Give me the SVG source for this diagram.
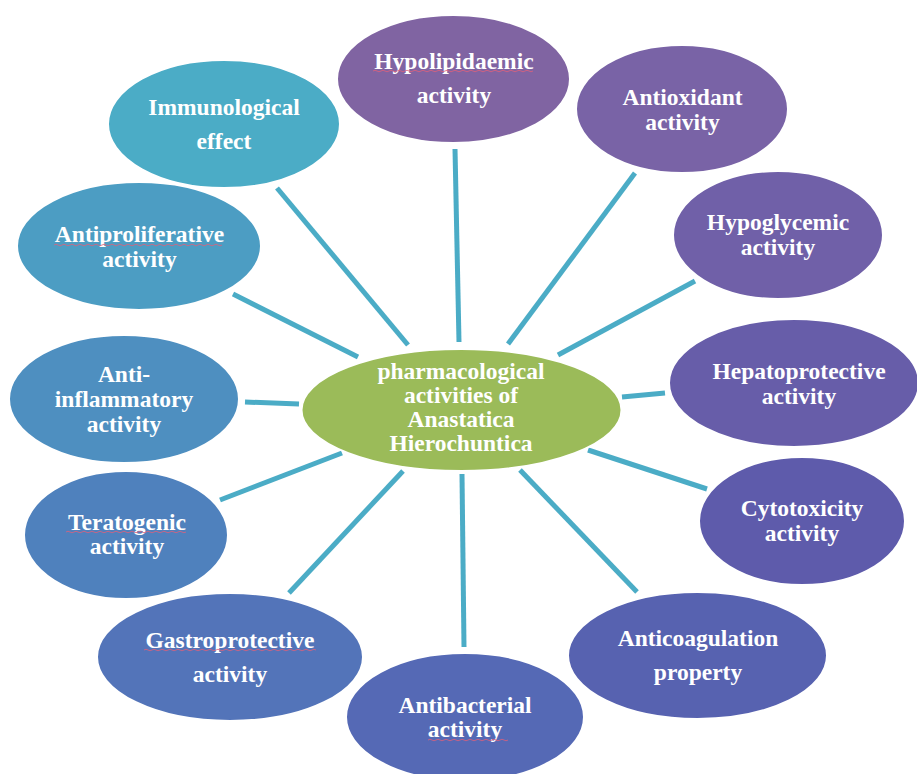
<svg xmlns="http://www.w3.org/2000/svg" width="917" height="774" viewBox="0 0 917 774">
  <style>
    .link { stroke: #4BACC6; stroke-width: 5; stroke-linecap: butt; fill: none; }
    .bubble { stroke: #ffffff; stroke-width: 2; }
    .label { font-family: "Liberation Serif", "Times New Roman", serif; font-weight: bold; font-size: 23.5px; fill: #ffffff; text-anchor: middle; }
    .squiggle { stroke: #e0607a; stroke-width: 1; fill: none; opacity: 0.8; }
  </style>
  <rect width="917" height="774" fill="#ffffff"/>

  <!-- spokes from the hub to each activity -->
  <g id="connectors">
    <line class="link" x1="408" y1="345" x2="277" y2="188"/>
    <line class="link" x1="459" y1="342" x2="455" y2="149"/>
    <line class="link" x1="508" y1="344" x2="635" y2="173"/>
    <line class="link" x1="558" y1="355" x2="695" y2="281"/>
    <line class="link" x1="622" y1="397" x2="665" y2="393"/>
    <line class="link" x1="588" y1="450" x2="707" y2="489"/>
    <line class="link" x1="520" y1="470" x2="637" y2="592"/>
    <line class="link" x1="462" y1="474" x2="464" y2="647"/>
    <line class="link" x1="403" y1="471" x2="289" y2="593"/>
    <line class="link" x1="342" y1="453" x2="220" y2="500"/>
    <line class="link" x1="245" y1="402" x2="299" y2="404"/>
    <line class="link" x1="358" y1="357" x2="233" y2="294"/>
  </g>

  <g id="immunological">
    <ellipse class="bubble" cx="224" cy="124" rx="116" ry="64" fill="#4BACC6"/>
    <text class="label"><tspan x="224" y="115">Immunological</tspan><tspan x="224" y="149">effect</tspan></text>
  </g>

  <g id="antiproliferative">
    <ellipse class="bubble" cx="139" cy="246" rx="122" ry="64" fill="#4C9DC3"/>
    <text class="label"><tspan x="139.5" y="242">Antiproliferative</tspan><tspan x="139.5" y="267">activity</tspan></text>
    <path class="squiggle" d="M54 245 q2 -1.5 4 0 t4 0 t4 0 t4 0 t4 0 t4 0 t4 0 t4 0 t4 0 t4 0 t4 0 t4 0 t4 0 t4 0 t4 0 t4 0 t4 0 t4 0 t4 0 t4 0 t4 0 t4 0 t4 0 t4 0 t4 0 t4 0 t4 0 t4 0 t4 0 t4 0 t4 0 t4 0 t4 0 t4 0 t4 0 t4 0 t4 0 t4 0 t4 0 t4 0 t4 0 t4 0"/>
  </g>

  <g id="anti-inflammatory">
    <ellipse class="bubble" cx="124" cy="399" rx="115" ry="64" fill="#4E8FC0"/>
    <text class="label"><tspan x="124" y="382">Anti-</tspan><tspan x="124" y="407">inflammatory</tspan><tspan x="124" y="432">activity</tspan></text>
  </g>

  <g id="teratogenic">
    <ellipse class="bubble" cx="126" cy="535" rx="102" ry="64" fill="#4F81BD"/>
    <text class="label"><tspan x="127" y="530">Teratogenic</tspan><tspan x="127" y="554">activity</tspan></text>
    <path class="squiggle" d="M66 532 q2 -1.5 4 0 t4 0 t4 0 t4 0 t4 0 t4 0 t4 0 t4 0 t4 0 t4 0 t4 0 t4 0 t4 0 t4 0 t4 0 t4 0 t4 0 t4 0 t4 0 t4 0 t4 0 t4 0 t4 0 t4 0 t4 0 t4 0 t4 0 t4 0 t4 0 t4 0"/>
  </g>

  <g id="gastroprotective">
    <ellipse class="bubble" cx="230" cy="657" rx="133" ry="64" fill="#5374B9"/>
    <text class="label"><tspan x="230" y="648">Gastroprotective</tspan><tspan x="230" y="682">activity</tspan></text>
    <path class="squiggle" d="M144 650 q2 -1.5 4 0 t4 0 t4 0 t4 0 t4 0 t4 0 t4 0 t4 0 t4 0 t4 0 t4 0 t4 0 t4 0 t4 0 t4 0 t4 0 t4 0 t4 0 t4 0 t4 0 t4 0 t4 0 t4 0 t4 0 t4 0 t4 0 t4 0 t4 0 t4 0 t4 0 t4 0 t4 0 t4 0 t4 0 t4 0 t4 0 t4 0 t4 0 t4 0 t4 0 t4 0 t4 0 t4 0"/>
  </g>

  <g id="antibacterial">
    <ellipse class="bubble" cx="465" cy="717" rx="119" ry="64" fill="#5569B5"/>
    <text class="label"><tspan x="465" y="713">Antibacterial</tspan><tspan x="465" y="737">activity</tspan></text>
    <path class="squiggle" d="M428 740 q2 -1.5 4 0 t4 0 t4 0 t4 0 t4 0 t4 0 t4 0 t4 0 t4 0 t4 0 t4 0 t4 0 t4 0 t4 0 t4 0 t4 0 t4 0 t4 0 t4 0 t4 0"/>
  </g>

  <g id="anticoagulation">
    <ellipse class="bubble" cx="697.5" cy="655.5" rx="129.5" ry="63.5" fill="#5762B0"/>
    <text class="label"><tspan x="698" y="646">Anticoagulation</tspan><tspan x="698" y="680">property</tspan></text>
  </g>

  <g id="cytotoxicity">
    <ellipse class="bubble" cx="802" cy="521" rx="103" ry="64" fill="#5E5BAB"/>
    <text class="label"><tspan x="802" y="516">Cytotoxicity</tspan><tspan x="802" y="541">activity</tspan></text>
  </g>

  <g id="hepatoprotective">
    <ellipse class="bubble" cx="794" cy="383" rx="125" ry="64" fill="#675DA9"/>
    <text class="label"><tspan x="799" y="379">Hepatoprotective</tspan><tspan x="799" y="404">activity</tspan></text>
  </g>

  <g id="hypoglycemic">
    <ellipse class="bubble" cx="778" cy="235" rx="105" ry="64" fill="#7060A8"/>
    <text class="label"><tspan x="778" y="230">Hypoglycemic</tspan><tspan x="778" y="255">activity</tspan></text>
  </g>

  <g id="antioxidant">
    <ellipse class="bubble" cx="682" cy="109" rx="106" ry="64" fill="#7963A6"/>
    <text class="label"><tspan x="682.5" y="105">Antioxidant</tspan><tspan x="682.5" y="130">activity</tspan></text>
  </g>

  <g id="hypolipidaemic">
    <ellipse class="bubble" cx="453.5" cy="79" rx="116.5" ry="64" fill="#8064A2"/>
    <text class="label"><tspan x="454" y="69">Hypolipidaemic</tspan><tspan x="454" y="103">activity</tspan></text>
    <path class="squiggle" d="M373 71 q2 -1.5 4 0 t4 0 t4 0 t4 0 t4 0 t4 0 t4 0 t4 0 t4 0 t4 0 t4 0 t4 0 t4 0 t4 0 t4 0 t4 0 t4 0 t4 0 t4 0 t4 0 t4 0 t4 0 t4 0 t4 0 t4 0 t4 0 t4 0 t4 0 t4 0 t4 0 t4 0 t4 0 t4 0 t4 0 t4 0 t4 0 t4 0 t4 0 t4 0 t4 0"/>
  </g>

  <g id="hub">
    <ellipse class="bubble" cx="461.5" cy="410" rx="160" ry="61" fill="#9BBB59"/>
    <text class="label"><tspan x="461" y="379">pharmacological</tspan><tspan x="461" y="403">activities of</tspan><tspan x="461" y="427">Anastatica</tspan><tspan x="461" y="451">Hierochuntica</tspan></text>
  </g>
</svg>
